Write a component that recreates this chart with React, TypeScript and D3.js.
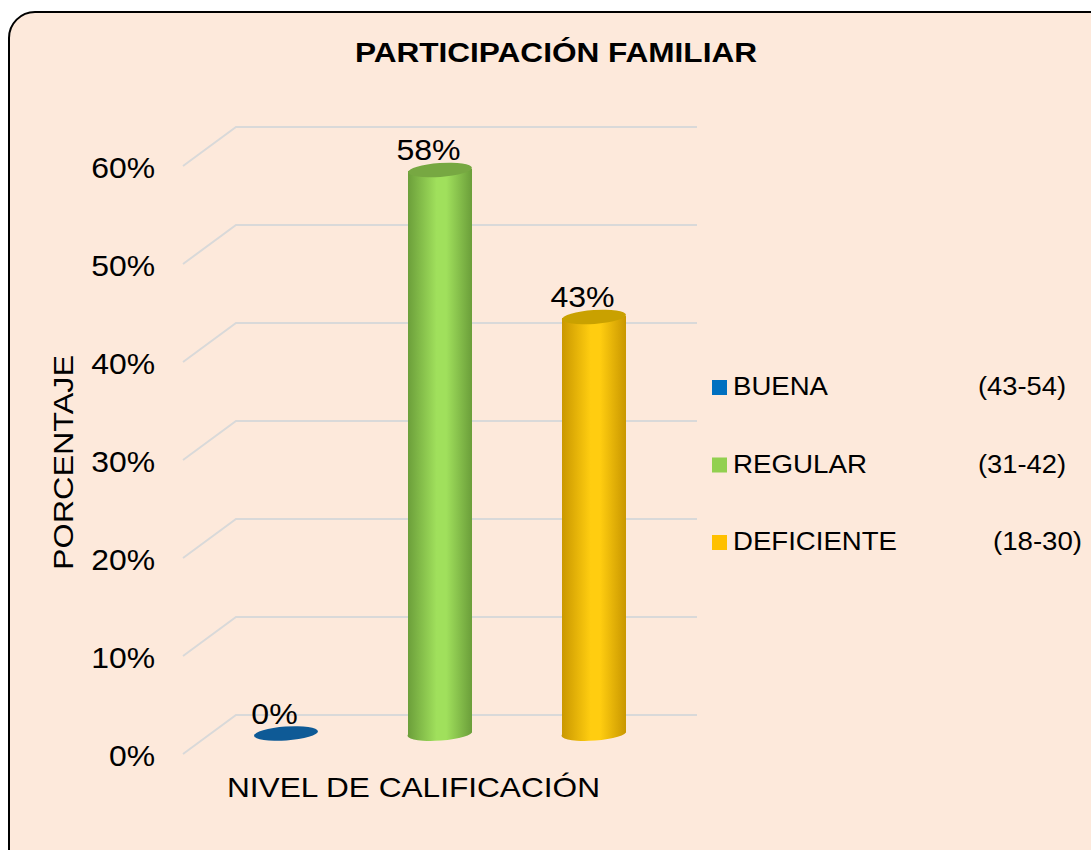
import React from "react";
import * as d3 from "d3";

const categories = ["BUENA", "REGULAR", "DEFICIENTE"];
const ranges = ["(43-54)", "(31-42)", "(18-30)"];
const values = [0, 57.5, 42.5];
const yTicks = [0, 10, 20, 30, 40, 50, 60];

const colors = {
  legend: ["#0070c0", "#92d050", "#ffc000"],
  edge: ["#0b548c", "#6b9e3a", "#c99700"],
  mid: ["#1067a8", "#a0e05c", "#ffcd10"],
  top: ["#0e5a96", "#77a842", "#c9a100"],
};

const W = 1091;
const H = 850;
const FONT = "'Liberation Sans', Arial, sans-serif";

// legend text geometry (measured widths)
const legendNameLen = [95, 134, 164];
const legendRangeX = [978, 978, 993];
const legendRangeLen = [88, 88, 89];

export default function App() {
  const yFront = d3.scaleLinear().domain([0, 60]).range([754, 166]);
  const dx = 53;
  const dy = 39;
  const xFront = 183;
  const xBackEnd = 697;
  const yMid = (v: number) => yFront(v) - dy / 2;
  const x = d3.scalePoint<string>().domain(categories).range([286, 594]);
  const rx = 32;
  const ry = 7;
  const rot = -4;

  return (
    <svg
      width={W}
      height={H}
      style={{ position: "absolute", left: 0, top: 0, display: "block" }}
      fontFamily={FONT}
    >
      <defs>
        {categories.map((c, i) => (
          <linearGradient key={c} id={`g${i}`} x1="0" x2="1" y1="0" y2="0">
            <stop offset="0" stopColor={colors.edge[i]} />
            <stop offset="0.45" stopColor={colors.mid[i]} />
            <stop offset="0.6" stopColor={colors.mid[i]} />
            <stop offset="1" stopColor={colors.edge[i]} />
          </linearGradient>
        ))}
      </defs>
      <rect x={0} y={0} width={W} height={H} fill="#ffffff" />
      <rect
        x={9}
        y={12}
        width={W + 40}
        height={H + 40}
        rx={26}
        ry={26}
        fill="#fde9db"
        stroke="#000"
        strokeWidth={2}
      />
      <text
        x={355}
        y={62}
        fontSize={27}
        fontWeight="bold"
        textLength={402}
        lengthAdjust="spacingAndGlyphs"
      >
        PARTICIPACIÓN FAMILIAR
      </text>

      {/* gridlines + ticks */}
      {yTicks.map((t) => (
        <g key={t}>
          <polyline
            points={`${xFront},${yFront(t)} ${xFront + dx},${yFront(t) - dy} ${xBackEnd},${yFront(t) - dy}`}
            fill="none"
            stroke="#d9d9d9"
            strokeWidth={2}
          />
          <text
            transform={`translate(155,${yFront(t) + 11.5}) scale(1.1,1)`}
            textAnchor="end"
            fontSize={29}
          >
            {`${t}%`}
          </text>
        </g>
      ))}

      <text
        transform={`translate(73,570) rotate(-90)`}
        fontSize={28}
        textLength={215}
        lengthAdjust="spacingAndGlyphs"
      >
        PORCENTAJE
      </text>
      <text
        x={227}
        y={797}
        fontSize={28}
        textLength={373}
        lengthAdjust="spacingAndGlyphs"
      >
        NIVEL DE CALIFICACIÓN
      </text>

      {/* cylinders */}
      {categories.map((c, i) => {
        const cx = x(c) as number;
        const yb = yMid(0);
        const yt = yMid(values[i]);
        const side = `M${cx - rx},${yt} L${cx - rx},${yb} A${rx},${ry} ${rot} 0 0 ${cx + rx},${yb - 2} L${cx + rx},${yt - 2} Z`;
        return (
          <g key={c}>
            {values[i] > 0 && <path d={side} fill={`url(#g${i})`} />}
            <ellipse
              cx={cx}
              cy={yt - 1}
              rx={rx}
              ry={ry}
              fill={colors.top[i]}
              transform={`rotate(${rot},${cx},${yt - 1})`}
            />
            <text
              transform={`translate(${cx - 11.5},${yt - 11}) scale(1.07,1)`}
              textAnchor="middle"
              fontSize={30}
            >
              {`${Math.round(values[i])}%`}
            </text>
          </g>
        );
      })}

      {/* legend */}
      {categories.map((c, i) => {
        const yb = 395 + i * 77.5;
        return (
          <g key={c}>
            <rect x={712} y={yb - 15} width={15} height={15} fill={colors.legend[i]} />
            <text
              x={733}
              y={yb}
              fontSize={25}
              textLength={legendNameLen[i]}
              lengthAdjust="spacingAndGlyphs"
            >
              {c}
            </text>
            <text
              x={legendRangeX[i]}
              y={yb}
              fontSize={25}
              textLength={legendRangeLen[i]}
              lengthAdjust="spacingAndGlyphs"
            >
              {ranges[i]}
            </text>
          </g>
        );
      })}
    </svg>
  );
}
